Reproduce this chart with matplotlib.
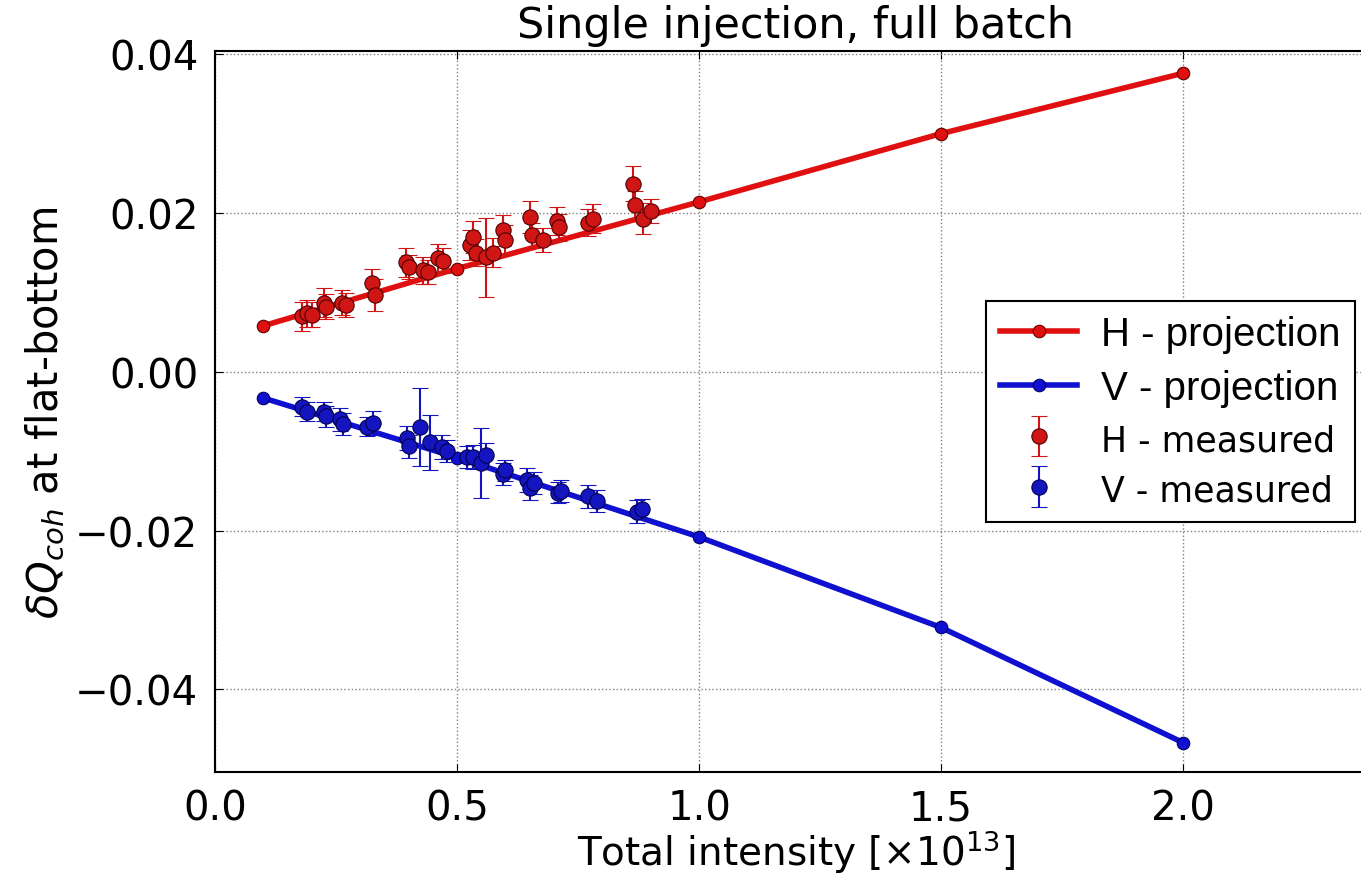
import matplotlib
matplotlib.use('Agg')
import matplotlib.pyplot as plt
import numpy as np

# projection (simulation) points
p_x = [0.1, 0.5, 1.0, 1.5, 2.0]
h_proj = [0.0058, 0.0130, 0.0214, 0.0300, 0.0376]
v_proj = [-0.0033, -0.0108, -0.0208, -0.0322, -0.0467]

# measured H
h_x = [0.18, 0.19, 0.20, 0.225, 0.23, 0.262, 0.27, 0.325, 0.33, 0.395, 0.40, 0.43, 0.44,
       0.46, 0.47, 0.527, 0.533, 0.54, 0.56, 0.575, 0.595, 0.60, 0.65, 0.655, 0.678,
       0.706, 0.71, 0.77, 0.78, 0.864, 0.868, 0.885, 0.90]
h_y = [0.0070, 0.0074, 0.0072, 0.0087, 0.0082, 0.0087, 0.0084, 0.0112, 0.0097, 0.0138,
       0.0132, 0.0128, 0.0126, 0.0143, 0.0140, 0.0160, 0.0170, 0.0150, 0.0144, 0.0150,
       0.0178, 0.0166, 0.0195, 0.0172, 0.0166, 0.0190, 0.0182, 0.0188, 0.0193, 0.0237,
       0.0210, 0.0193, 0.0203]
h_err = [0.0018, 0.0017, 0.0016, 0.0018, 0.0016, 0.0016, 0.0015, 0.0017, 0.0020, 0.0018,
         0.0015, 0.0017, 0.0015, 0.0018, 0.0016, 0.0019, 0.0020, 0.0017, 0.0050, 0.0018,
         0.0020, 0.0019, 0.0020, 0.0016, 0.0015, 0.0018, 0.0017, 0.0017, 0.0018, 0.0022,
         0.0018, 0.0020, 0.0015]

# measured V
v_x = [0.18, 0.19, 0.225, 0.23, 0.258, 0.265, 0.313, 0.327, 0.397, 0.40, 0.424, 0.444,
       0.469, 0.48, 0.52, 0.533, 0.55, 0.56, 0.595, 0.60, 0.645, 0.65, 0.66, 0.709, 0.715,
       0.771, 0.789, 0.872, 0.882]
v_y = [-0.0044, -0.0050, -0.0050, -0.0056, -0.0060, -0.0066, -0.0069, -0.0064, -0.0083,
       -0.0094, -0.0070, -0.0089, -0.0095, -0.0100, -0.0107, -0.0107, -0.0115, -0.0105,
       -0.0129, -0.0124, -0.0136, -0.0146, -0.0140, -0.0152, -0.0150, -0.0157, -0.0163,
       -0.0176, -0.0173]
v_err = [0.0012, 0.0012, 0.0012, 0.0013, 0.0015, 0.0014, 0.0012, 0.0015, 0.0015, 0.0015,
         0.0049, 0.0035, 0.0015, 0.0014, 0.0014, 0.0015, 0.0044, 0.0015, 0.0014, 0.0013,
         0.0015, 0.0016, 0.0014, 0.0013, 0.0014, 0.0015, 0.0014, 0.0015, 0.0013]

red = '#e01010'
blue = '#1010d0'
red_m = '#d01515'
blue_m = '#1515c0'

plt.rcParams['font.family'] = 'DejaVu Sans'
plt.rcParams['mathtext.fontset'] = 'dejavusans'

fig = plt.figure(figsize=(13.61, 8.79), dpi=100)
ax = fig.add_axes([0.158, 0.1206, 0.8535, 0.8202])

ax.plot(p_x, h_proj, '-o', color=red, lw=4, ms=9, mec='#600000', mew=0.8,
        label='H - projection', zorder=2)
ax.plot(p_x, v_proj, '-o', color=blue, lw=4, ms=9, mec='#000060', mew=0.8,
        label='V - projection', zorder=2)
ax.errorbar(h_x, h_y, yerr=h_err, fmt='o', color=red_m, ms=11, mec='#500000', mew=0.8,
            elinewidth=1.5, capsize=6, capthick=1.5, label='H - measured', zorder=3)
ax.errorbar(v_x, v_y, yerr=v_err, fmt='o', color=blue_m, ms=11, mec='#000050', mew=0.8,
            elinewidth=1.5, capsize=6, capthick=1.5, label='V - measured', zorder=3)

ax.set_xlim(0, 2.4)
ax.set_ylim(-0.0504, 0.0404)
ax.set_xticks([0.0, 0.5, 1.0, 1.5, 2.0])
ax.set_yticks([-0.04, -0.02, 0.0, 0.02, 0.04])
ax.set_yticklabels(['\u22120.04', '\u22120.02', '0.00', '0.02', '0.04'])
ax.tick_params(direction='in', labelsize=29, length=6, top=True, right=True, pad=12)
ax.grid(True, ls=':', color='0.5', lw=1)

for s in ax.spines.values():
    s.set_linewidth(1.5)

ax.set_title('Single injection, full batch', fontsize=31, pad=10)
ax.set_xlabel(r'Total intensity [$\times10^{13}$]', fontsize=28, labelpad=-1)
ax.set_ylabel(r'$\delta Q_{coh}$ at flat-bottom', fontsize=30, labelpad=6)

leg = ax.legend(loc='upper right', bbox_to_anchor=(0.981, 0.653), borderaxespad=0,
                numpoints=1, fancybox=False, framealpha=1, edgecolor='black',
                prop={'family': 'Liberation Sans', 'size': 29}, handlelength=1.9,
                labelspacing=0.38, borderpad=0.35, handletextpad=0.6)
leg.get_frame().set_linewidth(1.5)
for t in leg.get_texts()[2:]:
    t.set_fontfamily('DejaVu Sans')
    t.set_fontsize(25)

fig.savefig('out.png', dpi=100)
